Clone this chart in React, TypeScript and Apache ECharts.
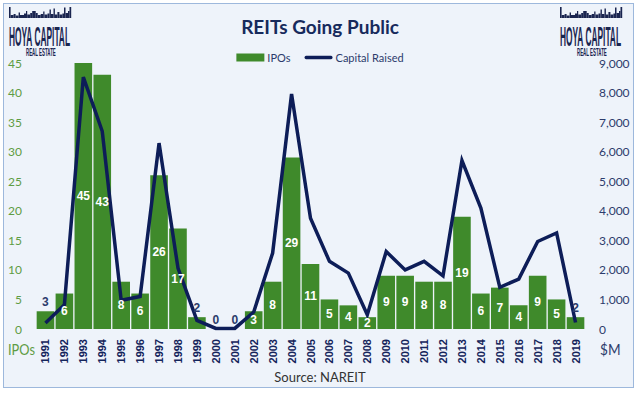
import React, { useEffect, useRef } from "react";
import * as echarts from "echarts";

const years = ["1991","1992","1993","1994","1995","1996","1997","1998","1999","2000","2001","2002","2003","2004","2005","2006","2007","2008","2009","2010","2011","2012","2013","2014","2015","2016","2017","2018","2019"];
const ipos = [3,6,45,43,8,6,26,17,2,0,0,3,8,29,11,5,4,2,9,9,8,8,19,6,7,4,9,5,2];
const capitalRaised = [200,820,8520,6690,970,1100,6290,2060,290,20,20,575,2570,7950,3750,2290,1890,480,2620,2000,2290,1800,5700,4090,1410,1690,2960,3250,220];
const ipoTicks = { min: 0, max: 45, interval: 5 };
const capitalTicks = { min: 0, max: 9000, interval: 1000 };
const labelAboveYears = ["1991", "1999", "2000", "2001", "2019"];

const GREEN = "#3f8a2b";
const GREEN_TEXT = "#5e9c44";
const NAVY = "#0d1d58";
const NAVY_TEXT = "#2c3b6c";
const LOGO = "#1a2550";

function logo(left: number): any[] {
  // [xOffset, width, height] of skyline buildings, standing on a base at y=18
  const blds: number[][] = [
    [0, 1.6, 11], [1.6, 3, 3], [4.6, 2, 4], [6.6, 3, 2.5], [9.6, 1.4, 5.5], [11, 4, 3],
    [15, 2, 4.5], [17, 1.2, 7], [18.2, 3, 3.5], [21.2, 2, 5], [23.2, 3.5, 7], [26.7, 2, 5],
    [28.7, 3, 3], [31.7, 2.5, 4], [34.2, 1.3, 6.5], [35.5, 3, 3.5], [38.5, 2, 4.5],
    [40.5, 1.4, 8.5], [41.9, 2.6, 4], [44.5, 1.4, 9.5], [45.9, 2.5, 3.5], [48.4, 2, 6],
    [50.4, 3, 3.5], [53.4, 1.6, 4.5], [55, 1.5, 10.5], [56.5, 2.5, 5], [59, 1.5, 7],
    [60.5, 1.7, 11]
  ];
  const els: any[] = blds.map((b) => ({
    type: "rect",
    shape: { x: left + b[0], y: 18 - b[2], width: b[1], height: b[2] },
    style: { fill: LOGO },
    silent: true,
  }));
  els.push({
    type: "text",
    x: left,
    y: 23,
    scaleX: 0.31,
    style: {
      text: "HOYA CAPITAL",
      fontFamily: "Liberation Sans",
      fontWeight: "bold",
      fontSize: 27,
      fill: LOGO,
      textVerticalAlign: "top",
    },
    silent: true,
  });
  els.push({
    type: "text",
    x: left + 17,
    y: 47,
    scaleX: 0.4,
    style: {
      text: "REAL ESTATE",
      fontFamily: "Liberation Sans",
      fontWeight: "bold",
      fontSize: 11,
      fill: LOGO,
      textVerticalAlign: "top",
    },
    silent: true,
  });
  return els;
}

export default function App() {
  const ref = useRef<HTMLDivElement>(null);

  useEffect(() => {
    document.body.style.margin = "0";
    if (!ref.current) return;
    const chart = echarts.init(ref.current, undefined, { renderer: "svg" });

    const labelData = ipos.map((v, i) =>
      labelAboveYears.includes(years[i])
        ? { value: v, label: { position: "top", color: NAVY_TEXT, distance: 3 } }
        : v
    );

    chart.setOption({
      animation: false,
      textStyle: { fontFamily: "Lato" },
      title: {
        text: "REITs Going Public",
        left: "center",
        top: 12,
        textStyle: { fontFamily: "Lato", fontSize: 19, fontWeight: "bold", color: "#172a5c" },
      },
      legend: {
        top: 47,
        left: "center",
        itemWidth: 28,
        itemHeight: 8,
        itemGap: 14,
        textStyle: { fontFamily: "Lato", fontSize: 11, color: NAVY_TEXT, padding: [0, 0, 0, -2] },
        data: [
          { name: "IPOs", icon: "rect" },
          { name: "Capital Raised", icon: "path://M0,0M28,8M1.5,2.3L26.5,2.3Q28,2.3,28,4Q28,5.7,26.5,5.7L1.5,5.7Q0,5.7,0,4Q0,2.3,1.5,2.3Z" },
        ],
      },
      grid: { left: 36, right: 55, top: 63, bottom: 64 },
      xAxis: {
        type: "category",
        data: years,
        axisLine: { show: false },
        axisTick: { show: false },
        axisLabel: {
          rotate: 90,
          interval: 0,
          margin: 10,
          fontFamily: "Liberation Sans",
          fontWeight: "bold",
          fontSize: 11,
          color: "#14245a",
        },
      },
      yAxis: [
        {
          type: "value",
          ...ipoTicks,
          splitLine: { show: false },
          axisLine: { show: false },
          axisTick: { show: false },
          axisLabel: { color: GREEN_TEXT, fontSize: 12, margin: 14, fontFamily: "Lato" },
        },
        {
          type: "value",
          ...capitalTicks,
          splitLine: { show: false },
          axisLine: { show: false },
          axisTick: { show: false },
          axisLabel: { color: NAVY_TEXT, fontSize: 12, margin: 14, fontFamily: "Lato" },
        },
      ],
      series: [
        {
          name: "IPOs",
          type: "bar",
          data: ipos,
          barCategoryGap: "7%",
          itemStyle: { color: GREEN },
          z: 2,
        },
        {
          name: "Capital Raised",
          type: "line",
          yAxisIndex: 1,
          data: capitalRaised,
          symbol: "none",
          z: 3,
          lineStyle: { color: NAVY, width: 3.5, join: "miter" },
          itemStyle: { color: NAVY },
        },
        {
          name: "IPO labels",
          type: "bar",
          data: labelData,
          barGap: "-100%",
          barCategoryGap: "7%",
          itemStyle: { color: "rgba(0,0,0,0)" },
          silent: true,
          z: 4,
          label: {
            show: true,
            position: "inside",
            color: "#ffffff",
            fontFamily: "Liberation Sans",
            fontWeight: "bold",
            fontSize: 12,
          },
        },
      ],
      graphic: [
        ...logo(9),
        ...logo(560),
        {
          type: "text",
          x: 8,
          y: 349,
          scaleX: 0.8,
          style: { text: "IPOs", fontFamily: "Lato", fontSize: 16, fill: GREEN_TEXT, textVerticalAlign: "middle" },
        },
        {
          type: "text",
          x: 600,
          y: 349,
          scaleX: 0.85,
          style: { text: "$M", fontFamily: "Lato", fontSize: 16, fill: NAVY_TEXT, textVerticalAlign: "middle" },
        },
        {
          type: "text",
          x: 320,
          y: 377,
          style: {
            text: "Source: NAREIT",
            fontFamily: "Lato",
            fontSize: 13,
            fill: "#333333",
            textAlign: "center",
            textVerticalAlign: "middle",
          },
        },
      ],
    });

    return () => chart.dispose();
  }, []);

  return (
    <div style={{ position: "relative", width: 640, height: 393, background: "#ffffff" }}>
      <div
        style={{
          position: "absolute",
          left: 3,
          top: 3,
          width: 629,
          height: 383,
          border: "1.5px solid #9db8dc",
          background: "#eef3fa",
        }}
      />
      <div ref={ref} style={{ position: "absolute", left: 0, top: 0, width: 640, height: 393 }} />
    </div>
  );
}
